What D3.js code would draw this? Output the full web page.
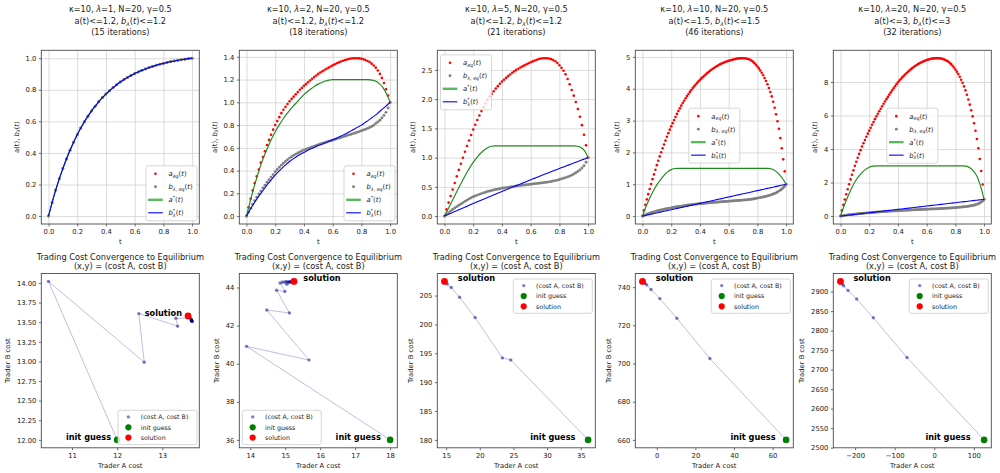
<!DOCTYPE html>
<html><head><meta charset="utf-8">
<script src="https://cdn.jsdelivr.net/npm/d3@7"></script>
<style>
html,body{margin:0;padding:0;background:#fff;}
svg{display:block;}
</style></head><body>
<svg id="chart" width="1000" height="473"></svg>
<script>
// ================= DATA =================
const kappa = 10, Nsteps = 20, gammaVal = 0.5;
const lambdas = [1, 2, 5, 10, 20];
const bounds = ["1.2", "1.2", "1.2", "1.5", "3"];
const iterations = [15, 18, 21, 46, 32];

// t grids
const tLine = [0,0.025,0.05,0.075,0.1,0.125,0.15,0.175,0.2,0.225,0.25,0.275,0.3,0.325,0.35,0.375,0.4,0.425,0.45,0.475,0.5,0.525,0.55,0.575,0.6,0.625,0.65,0.675,0.7,0.725,0.75,0.775,0.8,0.825,0.85,0.875,0.9,0.925,0.95,0.975,1];
const tDot70 = [0,0.0143,0.0286,0.0429,0.0571,0.0714,0.0857,0.1,0.1143,0.1286,0.1429,0.1571,0.1714,0.1857,0.2,0.2143,0.2286,0.2429,0.2571,0.2714,0.2857,0.3,0.3143,0.3286,0.3429,0.3571,0.3714,0.3857,0.4,0.4143,0.4286,0.4429,0.4571,0.4714,0.4857,0.5,0.5143,0.5286,0.5429,0.5571,0.5714,0.5857,0.6,0.6143,0.6286,0.6429,0.6571,0.6714,0.6857,0.7,0.7143,0.7286,0.7429,0.7571,0.7714,0.7857,0.8,0.8143,0.8286,0.8429,0.8571,0.8714,0.8857,0.9,0.9143,0.9286,0.9429,0.9571,0.9714,0.9857,1];
const tDot100 = [0,0.01,0.02,0.03,0.04,0.05,0.06,0.07,0.08,0.09,0.1,0.11,0.12,0.13,0.14,0.15,0.16,0.17,0.18,0.19,0.2,0.21,0.22,0.23,0.24,0.25,0.26,0.27,0.28,0.29,0.3,0.31,0.32,0.33,0.34,0.35,0.36,0.37,0.38,0.39,0.4,0.41,0.42,0.43,0.44,0.45,0.46,0.47,0.48,0.49,0.5,0.51,0.52,0.53,0.54,0.55,0.56,0.57,0.58,0.59,0.6,0.61,0.62,0.63,0.64,0.65,0.66,0.67,0.68,0.69,0.7,0.71,0.72,0.73,0.74,0.75,0.76,0.77,0.78,0.79,0.8,0.81,0.82,0.83,0.84,0.85,0.86,0.87,0.88,0.89,0.9,0.91,0.92,0.93,0.94,0.95,0.96,0.97,0.98,0.99,1];

// Panel 1 (lambda=1): all four series coincide
const p1Curve = [0,0.085,0.164,0.236,0.301,0.362,0.417,0.468,0.515,0.558,0.597,0.633,0.666,0.696,0.724,0.750,0.773,0.794,0.814,0.832,0.849,0.864,0.878,0.891,0.902,0.913,0.923,0.932,0.940,0.948,0.955,0.962,0.967,0.973,0.978,0.982,0.987,0.990,0.994,0.997,1];

// Panel 2 (lambda=2)
const p2AEq = [0,0.077,0.152,0.225,0.29,0.35,0.41,0.47,0.52,0.57,
 0.625,0.67,0.715,0.76,0.80,0.835,0.87,0.905,0.935,0.96,
 0.985,1.01,1.03,1.05,1.07,1.09,1.11,1.127,1.145,1.16,
 1.177,1.192,1.207,1.222,1.236,1.25,1.262,1.273,1.284,1.295,
 1.305,1.315,1.325,1.334,1.343,1.351,1.359,1.366,1.372,1.377,
 1.381,1.385,1.387,1.388,1.388,1.386,1.383,1.378,1.372,1.364,
 1.354,1.34,1.324,1.305,1.28,1.25,1.215,1.17,1.115,1.06,1.0];
const p2BEq = [0,0.035,0.07,0.104,0.136,0.166,0.195,0.22,0.247,0.272,
 0.297,0.32,0.343,0.365,0.39,0.41,0.43,0.448,0.465,0.48,
 0.495,0.51,0.522,0.534,0.545,0.555,0.564,0.572,0.58,0.587,
 0.594,0.601,0.608,0.615,0.622,0.628,0.634,0.64,0.645,0.651,
 0.657,0.662,0.668,0.674,0.68,0.685,0.691,0.697,0.702,0.708,
 0.714,0.719,0.725,0.731,0.737,0.743,0.75,0.757,0.764,0.771,
 0.779,0.788,0.799,0.815,0.828,0.843,0.862,0.885,0.912,0.95,1.0];
const p2AStar = [0,0.125,0.245,0.35,0.45,0.535,0.61,0.68,0.74,0.795,0.845,0.89,0.93,0.967,1.0,1.035,1.068,1.095,1.12,1.142,1.16,1.175,1.187,1.195,
 1.2,1.2,1.2,1.2,1.2,1.2,1.2,1.2,1.2,1.2,1.2,
 1.195,1.185,1.165,1.13,1.075,1.0];
const p2BStar = [0,0.055,0.108,0.156,0.20,0.243,0.285,0.323,0.36,0.393,0.424,0.453,0.48,0.503,0.524,0.543,0.56,0.576,0.591,0.605,0.62,0.632,0.645,0.657,0.67,0.684,0.699,0.714,0.73,0.747,0.764,0.782,0.80,0.822,0.844,0.867,0.89,0.917,0.944,0.972,1.0];

// Panel 3 (lambda=5)
const p3AEq = [0,0.115,0.23,0.345,0.456,0.567,0.68,0.79,0.895,0.998,
 1.10,1.198,1.293,1.388,1.48,1.563,1.643,1.72,1.795,1.862,
 1.927,1.99,2.042,2.09,2.135,2.18,2.222,2.262,2.30,2.332,
 2.363,2.393,2.422,2.45,2.475,2.50,2.52,2.54,2.56,2.578,
 2.596,2.613,2.63,2.645,2.66,2.673,2.685,2.693,2.698,2.70,
 2.699,2.694,2.684,2.67,2.648,2.618,2.58,2.535,2.485,2.425,
 2.345,2.255,2.155,2.06,1.95,1.83,1.70,1.555,1.39,1.21,1.0];
const p3BEq = [0,0.03,0.058,0.086,0.113,0.138,0.162,0.185,0.208,0.23,
 0.252,0.274,0.294,0.313,0.33,0.345,0.359,0.372,0.385,0.397,
 0.409,0.42,0.429,0.438,0.446,0.454,0.461,0.468,0.475,0.481,
 0.487,0.492,0.498,0.504,0.509,0.515,0.519,0.523,0.527,0.532,
 0.536,0.541,0.545,0.549,0.553,0.558,0.562,0.566,0.571,0.575,
 0.58,0.586,0.592,0.599,0.607,0.615,0.625,0.636,0.647,0.658,
 0.67,0.684,0.70,0.72,0.741,0.763,0.79,0.823,0.86,0.92,1.0];
const p3AStar = [0,0.12,0.24,0.365,0.49,0.605,0.72,0.825,0.92,1.0,1.07,1.125,1.17,1.195,
 1.2,1.2,1.2,1.2,1.2,1.2,1.2,1.2,1.2,1.2,1.2,1.2,1.2,1.2,1.2,1.2,1.2,1.2,1.2,1.2,1.2,1.2,1.2,
 1.195,1.175,1.12,1.0];
const p3BStar = [0,0.027,0.054,0.081,0.108,0.135,0.161,0.188,0.214,0.24,0.266,0.292,0.318,0.344,0.37,0.395,0.42,0.446,0.471,0.496,0.521,0.546,0.571,0.596,0.621,0.645,0.67,0.694,0.718,0.742,0.766,0.79,0.813,0.837,0.86,0.884,0.907,0.93,0.954,0.977,1.0];

// Panel 4 (lambda=10)
const p4AEq = [0,0.18,0.355,0.525,0.69,0.85,1.005,1.16,1.31,1.455,
 1.60,1.74,1.875,2.005,2.13,2.25,2.37,2.49,2.605,2.715,
 2.82,2.92,3.02,3.115,3.21,3.30,3.385,3.47,3.55,3.625,
 3.70,3.77,3.837,3.902,3.962,4.02,4.076,4.13,4.182,4.232,
 4.28,4.325,4.368,4.41,4.45,4.49,4.527,4.562,4.596,4.628,
 4.66,4.689,4.717,4.743,4.767,4.79,4.811,4.83,4.848,4.865,
 4.88,4.893,4.905,4.917,4.928,4.94,4.947,4.953,4.958,4.96,
 4.96,4.957,4.951,4.942,4.928,4.91,4.882,4.847,4.805,4.756,
 4.70,4.64,4.574,4.502,4.424,4.34,4.246,4.141,4.025,3.898,
 3.76,3.59,3.403,3.199,2.978,2.74,2.45,2.13,1.782,1.406,1.0];
const p4BEq = [0,0.02,0.039,0.057,0.074,0.09,0.105,0.12,0.134,0.147,
 0.16,0.172,0.183,0.194,0.205,0.215,0.225,0.234,0.243,0.252,
 0.26,0.268,0.276,0.284,0.292,0.30,0.307,0.314,0.321,0.328,
 0.335,0.341,0.347,0.353,0.359,0.365,0.37,0.375,0.38,0.385,
 0.39,0.394,0.398,0.402,0.406,0.41,0.414,0.418,0.422,0.426,
 0.43,0.434,0.438,0.442,0.446,0.45,0.454,0.457,0.461,0.464,
 0.468,0.471,0.475,0.478,0.482,0.485,0.488,0.491,0.495,0.498,
 0.502,0.506,0.51,0.515,0.52,0.525,0.531,0.538,0.545,0.555,
 0.565,0.573,0.582,0.591,0.60,0.61,0.621,0.633,0.646,0.66,
 0.675,0.692,0.71,0.73,0.756,0.785,0.815,0.85,0.89,0.94,1.0];
const p4AStar = [0,0.3,0.56,0.79,0.98,1.14,1.28,1.39,1.46,1.495,
 1.5,1.5,1.5,1.5,1.5,1.5,1.5,1.5,1.5,1.5,1.5,1.5,1.5,1.5,1.5,1.5,1.5,1.5,1.5,1.5,1.5,1.5,1.5,1.5,1.5,1.5,
 1.48,1.42,1.32,1.18,1.0];
const p4BStar = [0,0.025,0.05,0.075,0.1,0.125,0.15,0.175,0.2,0.225,0.25,0.275,0.3,0.325,0.35,0.375,0.4,0.425,0.45,0.475,0.5,0.525,0.55,0.575,0.6,0.625,0.65,0.675,0.7,0.725,0.75,0.775,0.8,0.825,0.85,0.875,0.9,0.925,0.95,0.975,1.0];

// Panel 5 (lambda=20)
const p5AEq = [0,0.34,0.67,0.99,1.30,1.6,1.90,2.19,2.47,2.74,
 3.0,3.245,3.482,3.712,3.935,4.15,4.35,4.545,4.735,4.92,
 5.1,5.275,5.447,5.617,5.785,5.95,6.105,6.257,6.407,6.555,
 6.7,6.84,6.978,7.114,7.248,7.38,7.508,7.632,7.752,7.868,
 7.98,8.084,8.182,8.276,8.365,8.45,8.532,8.611,8.687,8.76,
 8.83,8.894,8.955,9.013,9.068,9.12,9.164,9.205,9.243,9.278,
 9.31,9.338,9.362,9.382,9.398,9.41,9.418,9.422,9.422,9.414,
 9.40,9.38,9.352,9.316,9.272,9.22,9.15,9.068,8.974,8.868,
 8.75,8.62,8.475,8.315,8.14,7.95,7.74,7.505,7.245,6.96,
 6.65,6.32,5.95,5.54,5.09,4.6,4.05,3.41,2.69,1.89,1.0];
const p5BEq = [0,0.016,0.031,0.045,0.058,0.07,0.081,0.091,0.101,0.111,
 0.12,0.129,0.138,0.147,0.156,0.165,0.172,0.179,0.186,0.193,
 0.20,0.207,0.214,0.221,0.228,0.235,0.241,0.247,0.253,0.259,
 0.265,0.271,0.277,0.283,0.289,0.295,0.30,0.305,0.31,0.315,
 0.32,0.325,0.33,0.335,0.34,0.345,0.35,0.355,0.36,0.365,
 0.37,0.374,0.378,0.382,0.386,0.39,0.394,0.398,0.402,0.406,
 0.41,0.414,0.418,0.422,0.426,0.43,0.434,0.438,0.442,0.446,
 0.45,0.455,0.46,0.465,0.47,0.475,0.481,0.487,0.493,0.499,
 0.505,0.513,0.521,0.529,0.537,0.545,0.555,0.565,0.576,0.588,
 0.60,0.615,0.632,0.652,0.674,0.70,0.735,0.78,0.835,0.905,1.0];
const p5AStar = [0,0.6,1.14,1.62,2.03,2.35,2.6,2.79,2.92,2.98,
 3.0,3.0,3.0,3.0,3.0,3.0,3.0,3.0,3.0,3.0,3.0,3.0,3.0,3.0,3.0,3.0,3.0,3.0,3.0,3.0,3.0,3.0,3.0,3.0,3.0,
 2.98,2.88,2.7,2.38,1.79,1.0];
const p5BStar = [0,0.025,0.05,0.075,0.1,0.125,0.15,0.175,0.2,0.225,0.25,0.275,0.3,0.325,0.35,0.375,0.4,0.425,0.45,0.475,0.5,0.525,0.55,0.575,0.6,0.625,0.65,0.675,0.7,0.725,0.75,0.775,0.8,0.825,0.85,0.875,0.9,0.925,0.95,0.975,1.0];

// top row ticks
const tTicks = [0, 0.2, 0.4, 0.6, 0.8, 1.0];
const yTicksTop1 = [0, 0.2, 0.4, 0.6, 0.8, 1.0];
const yTicksTop2 = [0, 0.2, 0.4, 0.6, 0.8, 1.0, 1.2, 1.4];
const yTicksTop3 = [0, 0.5, 1.0, 1.5, 2.0, 2.5];
const yTicksTop4 = [0, 1, 2, 3, 4, 5];
const yTicksTop5 = [0, 2, 4, 6, 8];

// bottom row: cost iterates (cost A, cost B)
const costA1 = [10.48,12.60,12.48,13.34,13.30,13.63,13.66,13.64,13.65,13.64,13.66,13.65,13.64,13.65,13.65];
const costB1 = [14.02,12.99,13.61,13.45,13.55,13.55,13.51,13.53,13.52,13.53,13.51,13.52,13.53,13.52,13.52];
const init1 = [12.0, 12.0], sol1 = [13.57, 13.58];

const costA2 = [13.89,15.68,14.47,15.12,14.75,14.99,14.85,15.05,14.92,15.10,15.00,15.15,15.05,15.18,15.12,15.20,15.18,15.22];
const costB2 = [40.91,40.19,42.82,42.66,43.86,43.79,44.24,44.17,44.29,44.28,44.30,44.29,44.30,44.30,44.30,44.31,44.31,44.31];
const init2 = [18.0, 36.0], sol2 = [15.25, 44.32];

const costA3 = [24.6,23.35,19.3,17.0,15.75,15.15,14.95,14.87,14.83,14.81,14.8,14.79,14.78,14.78,14.77,14.77,14.76,14.76,14.76,14.75,14.75];
const costB3 = [193.85,194.2,201.2,204.7,206.4,207.0,207.2,207.3,207.35,207.38,207.4,207.41,207.42,207.43,207.43,207.44,207.44,207.44,207.45,207.45,207.45];
const init3 = [36.1, 180.0], sol3 = [14.75, 207.45];

const costA4 = [27.5,10.4,1.6,-3.0,-5.2,-6.1,-6.6,-6.9,-7.05,-7.15,-7.2,-7.25,-7.28,-7.3,-7.32,-7.33,-7.34,-7.35,-7.35,-7.36,-7.36,-7.37,-7.37,-7.37,-7.38,-7.38,-7.38,-7.38,-7.39,-7.39,-7.39,-7.39,-7.39,-7.4,-7.4,-7.4,-7.4,-7.4,-7.4,-7.4,-7.4,-7.4,-7.4,-7.4,-7.4,-7.4];
const costB4 = [702.6,723.7,734.0,738.8,741.2,742.0,742.4,742.6,742.7,742.8,742.85,742.88,742.9,742.92,742.93,742.94,742.95,742.96,742.96,742.97,742.97,742.97,742.98,742.98,742.98,742.98,742.99,742.99,742.99,742.99,742.99,743.0,743.0,743.0,743.0,743.0,743.0,743.0,743.0,743.0,743.0,743.0,743.0,743.0,743.0,743.0];
const init4 = [67.0, 660.0], sol4 = [-7.4, 743.0];

const costA5 = [-69,-154,-196,-218,-229,-233,-235,-236,-236.5,-236.7,-236.8,-236.9,-236.9,-237,-237,-237,-237,-237,-237,-237,-237,-237,-237,-237,-237,-237,-237,-237,-237,-237,-237,-237];
const costB5 = [2731,2833,2881,2903,2915,2920,2922.5,2924,2924.8,2925.2,2925.5,2925.7,2925.8,2925.9,2926,2926,2926,2926,2926,2926,2926,2926,2926,2926,2926,2926,2926,2926,2926,2926,2926,2926];
const init5 = [126, 2520], sol5 = [-237, 2926];

// bottom row ticks
const xTicksBot1 = [11, 12, 13], yTicksBot1 = [12.00,12.25,12.50,12.75,13.00,13.25,13.50,13.75,14.00];
const xTicksBot2 = [14, 15, 16, 17, 18], yTicksBot2 = [36, 38, 40, 42, 44];
const xTicksBot3 = [15, 20, 25, 30, 35], yTicksBot3 = [180, 185, 190, 195, 200, 205];
const xTicksBot4 = [0, 20, 40, 60], yTicksBot4 = [660, 680, 700, 720, 740];
const xTicksBot5 = [-200, -100, 0, 100], yTicksBot5 = [2500,2550,2600,2650,2700,2750,2800,2850,2900];

// ================= LAYOUT / STYLE =================
const FONT = '"DejaVu Sans", sans-serif';
const AXW = 158;
const COL_LEFT = [41.3, 239.3, 437.3, 635.3, 833.3];
const ROW1 = {top: 50.3, bottom: 224};
const ROW2 = {top: 273.5, bottom: 447.8};
const TXT = '#1a1a1a', FRAME = '#4a4a4a', GRID = '#d2d2d2';
const FS_TITLE = 8.2, FS_TICK = 6.8, FS_LAB = 6.8, FS_LEG_TOP = 6.8, FS_LEG_BOT = 6.3;
const R_RED = 1.3, R_GRAY = 1.45;

const topPanels = [
  {aEq: p1Curve, bEq: p1Curve, aStar: p1Curve, bStar: p1Curve, tDot: tLine, yTicks: yTicksTop1, yFmt: '.1f', legend: 'lr'},
  {aEq: p2AEq, bEq: p2BEq, aStar: p2AStar, bStar: p2BStar, tDot: tDot70, yTicks: yTicksTop2, yFmt: '.1f', legend: 'lr'},
  {aEq: p3AEq, bEq: p3BEq, aStar: p3AStar, bStar: p3BStar, tDot: tDot70, yTicks: yTicksTop3, yFmt: '.1f', legend: 'ul'},
  {aEq: p4AEq, bEq: p4BEq, aStar: p4AStar, bStar: p4BStar, tDot: tDot100, yTicks: yTicksTop4, yFmt: 'd', legend: 'c'},
  {aEq: p5AEq, bEq: p5BEq, aStar: p5AStar, bStar: p5BStar, tDot: tDot100, yTicks: yTicksTop5, yFmt: 'd', legend: 'c'}
];
const botPanels = [
  {costA: costA1, costB: costB1, init: init1, sol: sol1, xTicks: xTicksBot1, yTicks: yTicksBot1, yFmt: '.2f', legend: 'lr', solAnchor: ['end', -6], initAnchor: ['end', -6]},
  {costA: costA2, costB: costB2, init: init2, sol: sol2, xTicks: xTicksBot2, yTicks: yTicksBot2, yFmt: 'd', legend: 'll', solAnchor: ['start', 9.3], initAnchor: ['end', -9.3]},
  {costA: costA3, costB: costB3, init: init3, sol: sol3, xTicks: xTicksBot3, yTicks: yTicksBot3, yFmt: 'd', legend: 'ur', solAnchor: ['start', 13.3], initAnchor: ['end', -12.7]},
  {costA: costA4, costB: costB4, init: init4, sol: sol4, xTicks: xTicksBot4, yTicks: yTicksBot4, yFmt: 'd', legend: 'ur', solAnchor: ['start', 13.3], initAnchor: ['end', -10.5]},
  {costA: costA5, costB: costB5, init: init5, sol: sol5, xTicks: xTicksBot5, yTicks: yTicksBot5, yFmt: 'd', legend: 'ur', solAnchor: ['start', 13], initAnchor: ['end', -13.5]}
];

const svg = d3.select('#chart');
svg.append('rect').attr('width', 1000).attr('height', 473).attr('fill', '#fff');

const pad5 = ([a, b]) => { const m = (b - a) * 0.05; return [a - m, b + m]; };

// rich text helper: parts = [[string, flags]] flags: i=italic, b=subscript, p=superscript, k=back under previous
function rich(textSel, parts, fs) {
  let shift = 0;
  textSel.style('white-space', 'pre');
  parts.forEach(([s, f = '']) => {
    const target = f.includes('b') ? 0.24 * fs : (f.includes('p') ? -0.4 * fs : 0);
    const ts = textSel.append('tspan').text(s);
    if (f.includes('i')) ts.attr('font-style', 'italic');
    if (f.includes('b') || f.includes('p')) ts.attr('font-size', fs * 0.7);
    if (Math.abs(target - shift) > 1e-9) { ts.attr('dy', target - shift); shift = target; }
    if (f.includes('k')) ts.attr('dx', -fs * 0.7 * 0.5);
  });
}

function styleAxis(sel, fs) {
  sel.attr('font-family', FONT).attr('font-size', fs);
  sel.select('.domain').remove();
  sel.selectAll('.tick line').attr('stroke', FRAME).attr('stroke-width', 0.8);
  sel.selectAll('.tick text').attr('fill', TXT);
}

function drawAxes(g, x, y, xTicks, yTicks, xFmt, yFmt, L, R, T, B) {
  const xa = g.append('g').attr('transform', `translate(0,${B})`)
    .call(d3.axisBottom(x).tickValues(xTicks).tickSize(2.4).tickPadding(3.1).tickFormat(d3.format(xFmt)));
  styleAxis(xa, FS_TICK);
  const ya = g.append('g').attr('transform', `translate(${L},0)`)
    .call(d3.axisLeft(y).tickValues(yTicks).tickSize(2.4).tickPadding(2.5).tickFormat(d3.format(yFmt)));
  styleAxis(ya, FS_TICK);
  let maxW = 0;
  ya.selectAll('.tick text').each(function () { maxW = Math.max(maxW, this.getComputedTextLength()); });
  return maxW;
}

function frame(g, L, R, T, B) {
  g.append('rect').attr('x', L).attr('y', T).attr('width', R - L).attr('height', B - T)
    .attr('fill', 'none').attr('stroke', FRAME).attr('stroke-width', 0.9);
}

function legendBox(g, kind, L, R, T, B, w, h) {
  let bx, by;
  if (kind === 'lr') { bx = R - 2.3 - w; by = B - 3.2 - h; }
  else if (kind === 'll') { bx = L + 3; by = B - 3.2 - h; }
  else if (kind === 'ul') { bx = L + 3.2; by = T + 4.5; }
  else if (kind === 'ur') { bx = R - 3 - w; by = T + 5.5; }
  else { bx = (L + R) / 2 - w / 2; by = (T + B) / 2 - h / 2 - 1.5; }
  g.append('rect').attr('x', bx).attr('y', by).attr('width', w).attr('height', h)
    .attr('rx', 2).attr('fill', '#fff').attr('fill-opacity', 0.8)
    .attr('stroke', '#cccccc').attr('stroke-width', 0.8);
  return [bx, by];
}

// ================= TOP ROW =================
topPanels.forEach((P, i) => {
  const L = COL_LEFT[i], R = L + AXW, T = ROW1.top, B = ROW1.bottom;
  const g = svg.append('g');
  const x = d3.scaleLinear().domain(pad5([0, 1])).range([L, R]);
  const y = d3.scaleLinear().domain(pad5(d3.extent([...P.aEq, ...P.bEq, ...P.aStar, ...P.bStar]))).range([B, T]);

  // grid
  const gx = g.append('g').attr('transform', `translate(0,${B})`)
    .call(d3.axisBottom(x).tickValues(tTicks).tickSize(-(B - T)).tickFormat(''));
  gx.select('.domain').remove();
  gx.selectAll('line').attr('stroke', GRID).attr('stroke-width', 0.8);
  const gy = g.append('g').attr('transform', `translate(${L},0)`)
    .call(d3.axisLeft(y).tickValues(P.yTicks).tickSize(-(R - L)).tickFormat(''));
  gy.select('.domain').remove();
  gy.selectAll('line').attr('stroke', GRID).attr('stroke-width', 0.8);

  // equilibrium dots
  g.append('g').selectAll('circle').data(d3.zip(P.tDot, P.aEq)).join('circle')
    .attr('cx', d => x(d[0])).attr('cy', d => y(d[1])).attr('r', R_RED).attr('fill', '#ff0000');
  g.append('g').selectAll('circle').data(d3.zip(P.tDot, P.bEq)).join('circle')
    .attr('cx', d => x(d[0])).attr('cy', d => y(d[1])).attr('r', R_GRAY).attr('fill', '#808080');

  // optimal lines
  const ln = d3.line().x(d => x(d[0])).y(d => y(d[1])).curve(d3.curveMonotoneX);
  g.append('path').attr('d', ln(d3.zip(tLine, P.aStar))).attr('fill', 'none')
    .attr('stroke', '#1f8a1f').attr('stroke-width', 1.15);
  g.append('path').attr('d', ln(d3.zip(tLine, P.bStar))).attr('fill', 'none')
    .attr('stroke', '#0000ff').attr('stroke-width', 1.1);

  frame(g, L, R, T, B);
  const maxW = drawAxes(g, x, y, tTicks, P.yTicks, '.1f', P.yFmt, L, R, T, B);

  // axis labels
  g.append('text').attr('x', (L + R) / 2).attr('y', B + 20.4).attr('text-anchor', 'middle')
    .attr('font-family', FONT).attr('font-size', FS_LAB).attr('fill', TXT).text('t');
  const ylab = g.append('g').attr('transform', `translate(${L - 4.9 - maxW - 6.8},${(T + B) / 2}) rotate(-90)`)
    .append('text').attr('text-anchor', 'middle').attr('font-family', FONT)
    .attr('font-size', FS_LAB).attr('fill', TXT);
  rich(ylab, [['a(t), '], ['b', 'i'], ['λ', 'ib'], ['('], ['t', 'i'], [')']], FS_LAB);

  // title (3 lines)
  const cx = (L + R) / 2;
  const t1 = g.append('text').attr('x', cx).attr('y', 12).attr('text-anchor', 'middle')
    .attr('font-family', FONT).attr('font-size', FS_TITLE).attr('fill', TXT);
  rich(t1, [[`κ=${kappa}, `], ['λ', 'i'], [`=${lambdas[i]}, N=${Nsteps}, γ=${gammaVal}`]], FS_TITLE);
  const t2 = g.append('text').attr('x', cx).attr('y', 23.7).attr('text-anchor', 'middle')
    .attr('font-family', FONT).attr('font-size', FS_TITLE).attr('fill', TXT);
  rich(t2, [[`a(t)<=${bounds[i]}, `], ['b', 'i'], ['λ', 'ib'], ['('], ['t', 'i'], [`)<=${bounds[i]}`]], FS_TITLE);
  g.append('text').attr('x', cx).attr('y', 35.4).attr('text-anchor', 'middle')
    .attr('font-family', FONT).attr('font-size', FS_TITLE).attr('fill', TXT)
    .text(`(${iterations[i]} iterations)`);

  // legend
  const lw = 51, lh = 55;
  const [bx, by] = legendBox(g, P.legend, L, R, T, B, lw, lh);
  const rows = [8, 21, 34, 47].map(r => by + r);
  const mx = bx + 9.5, tx = bx + 22.5;
  g.append('circle').attr('cx', mx).attr('cy', rows[0]).attr('r', R_RED).attr('fill', '#ff0000');
  g.append('circle').attr('cx', mx).attr('cy', rows[1]).attr('r', R_GRAY).attr('fill', '#808080');
  g.append('line').attr('x1', bx + 2.2).attr('x2', bx + 16.8).attr('y1', rows[2]).attr('y2', rows[2])
    .attr('stroke', '#5cb85c').attr('stroke-width', 2.4);
  g.append('line').attr('x1', bx + 2.2).attr('x2', bx + 16.8).attr('y1', rows[3]).attr('y2', rows[3])
    .attr('stroke', '#0000ff').attr('stroke-width', 1.1);
  const labels = [
    [['a', 'i'], ['eq', 'ib'], ['('], ['t', 'i'], [')']],
    [['b', 'i'], ['λ', 'ib'], [', ', 'b'], ['eq', 'ib'], ['('], ['t', 'i'], [')']],
    [['a', 'i'], ['*', 'p'], ['('], ['t', 'i'], [')']],
    [['b', 'i'], ['*', 'p'], ['λ', 'ibk'], ['('], ['t', 'i'], [')']]
  ];
  labels.forEach((parts, k) => {
    const tt = g.append('text').attr('x', tx).attr('y', rows[k] + 2.4)
      .attr('font-family', FONT).attr('font-size', FS_LEG_TOP).attr('fill', TXT);
    rich(tt, parts, FS_LEG_TOP);
  });
});

// ================= BOTTOM ROW =================
botPanels.forEach((P, i) => {
  const L = COL_LEFT[i], R = L + AXW, T = ROW2.top, B = ROW2.bottom;
  const g = svg.append('g');
  const pts = d3.zip(P.costA, P.costB);
  const x = d3.scaleLinear().domain(pad5(d3.extent([...P.costA, P.init[0], P.sol[0]]))).range([L, R]);
  const y = d3.scaleLinear().domain(pad5(d3.extent([...P.costB, P.init[1], P.sol[1]]))).range([B, T]);

  const ln = d3.line().x(d => x(d[0])).y(d => y(d[1]));
  g.append('path').attr('d', ln([P.init, ...pts])).attr('fill', 'none')
    .attr('stroke', '#00008b').attr('stroke-opacity', 0.32).attr('stroke-width', 0.8);
  g.append('g').selectAll('circle').data(pts).join('circle')
    .attr('cx', d => x(d[0])).attr('cy', d => y(d[1])).attr('r', 1.7)
    .attr('fill', '#00008b').attr('fill-opacity', 0.5);
  g.append('circle').attr('cx', x(P.init[0])).attr('cy', y(P.init[1])).attr('r', 3.3).attr('fill', '#008000');
  g.append('circle').attr('cx', x(P.sol[0])).attr('cy', y(P.sol[1])).attr('r', 3.4).attr('fill', '#ff0000');

  g.append('text').attr('x', x(P.sol[0]) + P.solAnchor[1]).attr('y', y(P.sol[1]))
    .attr('text-anchor', P.solAnchor[0]).attr('font-family', FONT).attr('font-weight', 'bold')
    .attr('font-size', FS_TITLE).attr('fill', '#000').text('solution');
  g.append('text').attr('x', x(P.init[0]) + P.initAnchor[1]).attr('y', y(P.init[1]))
    .attr('text-anchor', P.initAnchor[0]).attr('font-family', FONT).attr('font-weight', 'bold')
    .attr('font-size', FS_TITLE).attr('fill', '#000').text('init guess');

  frame(g, L, R, T, B);
  const maxW = drawAxes(g, x, y, P.xTicks, P.yTicks, 'd', P.yFmt, L, R, T, B);

  g.append('text').attr('x', (L + R) / 2).attr('y', B + 20.4).attr('text-anchor', 'middle')
    .attr('font-family', FONT).attr('font-size', FS_LAB).attr('fill', TXT).text('Trader A cost');
  g.append('g').attr('transform', `translate(${L - 4.9 - maxW - 6.8},${(T + B) / 2}) rotate(-90)`)
    .append('text').attr('text-anchor', 'middle').attr('font-family', FONT)
    .attr('font-size', FS_LAB).attr('fill', TXT).text('Trader B cost');

  const cx = (L + R) / 2;
  g.append('text').attr('x', cx).attr('y', 259.5).attr('text-anchor', 'middle')
    .attr('font-family', FONT).attr('font-size', FS_TITLE).attr('fill', TXT)
    .text('Trading Cost Convergence to Equilibrium');
  g.append('text').attr('x', cx).attr('y', 269.3).attr('text-anchor', 'middle')
    .attr('font-family', FONT).attr('font-size', FS_TITLE).attr('fill', TXT)
    .text('(x,y) = (cost A, cost B)');

  // legend
  const lw = 79, lh = 34.3;
  const [bx, by] = legendBox(g, P.legend, L, R, T, B, lw, lh);
  const rows = [6.6, 17, 27.3].map(r => by + r);
  const mx = bx + 10.4, tx = bx + 22.7;
  g.append('circle').attr('cx', mx).attr('cy', rows[0]).attr('r', 1.7).attr('fill', '#00008b').attr('fill-opacity', 0.5);
  g.append('circle').attr('cx', mx).attr('cy', rows[1]).attr('r', 3.1).attr('fill', '#008000');
  g.append('circle').attr('cx', mx).attr('cy', rows[2]).attr('r', 3.1).attr('fill', '#ff0000');
  ['(cost A, cost B)', 'init guess', 'solution'].forEach((s, k) => {
    g.append('text').attr('x', tx).attr('y', rows[k] + 2.2).attr('font-family', FONT)
      .attr('font-size', FS_LEG_BOT).attr('fill', TXT).text(s);
  });
});
</script>
</body></html>
